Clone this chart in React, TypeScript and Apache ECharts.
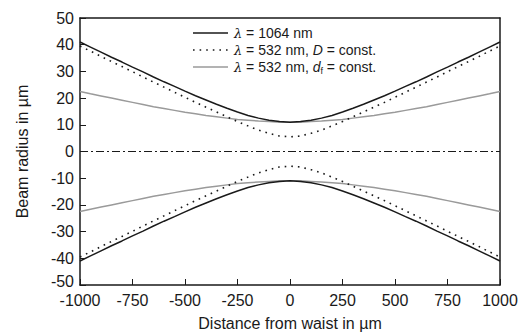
import React, { useEffect, useRef } from "react";
import * as echarts from "echarts";

const distances = [-1000, -950, -900, -850, -800, -750, -700, -650, -600, -550, -500, -450, -400, -350, -300, -250, -200, -150, -100, -50, 0, 50, 100, 150, 200, 250, 300, 350, 400, 450, 500, 550, 600, 650, 700, 750, 800, 850, 900, 950, 1000];

const w1064Upper = [41.0, 39.1, 37.2, 35.3, 33.5, 31.6, 29.8, 27.9, 26.1, 24.4, 22.6, 20.9, 19.3, 17.7, 16.2, 14.8, 13.5, 12.5, 11.7, 11.2, 11.0, 11.2, 11.7, 12.5, 13.5, 14.8, 16.2, 17.7, 19.3, 20.9, 22.6, 24.4, 26.1, 27.9, 29.8, 31.6, 33.5, 35.3, 37.2, 39.1, 41.0];
const w1064Lower = [-41.0, -39.1, -37.2, -35.3, -33.5, -31.6, -29.8, -27.9, -26.1, -24.4, -22.6, -20.9, -19.3, -17.7, -16.2, -14.8, -13.5, -12.5, -11.7, -11.2, -11.0, -11.2, -11.7, -12.5, -13.5, -14.8, -16.2, -17.7, -19.3, -20.9, -22.6, -24.4, -26.1, -27.9, -29.8, -31.6, -33.5, -35.3, -37.2, -39.1, -41.0];

const w532DUpper = [39.5, 37.6, 35.6, 33.7, 31.8, 29.9, 27.9, 26.0, 24.1, 22.2, 20.3, 18.4, 16.6, 14.8, 13.0, 11.2, 9.6, 8.0, 6.8, 5.8, 5.5, 5.8, 6.8, 8.0, 9.6, 11.2, 13.0, 14.8, 16.6, 18.4, 20.3, 22.2, 24.1, 26.0, 27.9, 29.9, 31.8, 33.7, 35.6, 37.6, 39.5];
const w532DLower = [-39.5, -37.6, -35.6, -33.7, -31.8, -29.9, -27.9, -26.0, -24.1, -22.2, -20.3, -18.4, -16.6, -14.8, -13.0, -11.2, -9.6, -8.0, -6.8, -5.8, -5.5, -5.8, -6.8, -8.0, -9.6, -11.2, -13.0, -14.8, -16.6, -18.4, -20.3, -22.2, -24.1, -26.0, -27.9, -29.9, -31.8, -33.7, -35.6, -37.6, -39.5];

const w532dfUpper = [22.5, 21.6, 20.8, 20.0, 19.2, 18.4, 17.6, 16.8, 16.1, 15.4, 14.7, 14.1, 13.5, 13.0, 12.5, 12.0, 11.7, 11.4, 11.2, 11.0, 11.0, 11.0, 11.2, 11.4, 11.7, 12.0, 12.5, 13.0, 13.5, 14.1, 14.7, 15.4, 16.1, 16.8, 17.6, 18.4, 19.2, 20.0, 20.8, 21.6, 22.5];
const w532dfLower = [-22.5, -21.6, -20.8, -20.0, -19.2, -18.4, -17.6, -16.8, -16.1, -15.4, -14.7, -14.1, -13.5, -13.0, -12.5, -12.0, -11.7, -11.4, -11.2, -11.0, -11.0, -11.0, -11.2, -11.4, -11.7, -12.0, -12.5, -13.0, -13.5, -14.1, -14.7, -15.4, -16.1, -16.8, -17.6, -18.4, -19.2, -20.0, -20.8, -21.6, -22.5];

const axisLineX = [-1000, 1000];
const axisLineY = [0, 0];

const FONT = "'Liberation Sans', Arial, sans-serif";
const BLACK = "#1a1a1a";
const GRAY = "#9a9a9a";
const DOTS = [1.6, 5];

function pairs(xs: number[], ys: number[]) {
  return xs.map((x, i) => [x, ys[i]]);
}

function lineSeries(name: string, ys: number[], color: string, type: any, width: number) {
  return {
    name,
    type: "line",
    data: pairs(distances, ys),
    showSymbol: false,
    symbol: "none",
    lineStyle: { color, width, type },
    silent: true,
  };
}

export default function App() {
  const ref = useRef<HTMLDivElement>(null);
  useEffect(() => {
    if (!ref.current) return;
    const chart = echarts.init(ref.current, undefined, { renderer: "svg" });
    const legendX1 = 193;
    const legendX2 = 228;
    const textX = 234;
    const rows = [33, 50, 67];
    const rich = {
      l: { fontFamily: "'DejaVu Serif', serif", fontStyle: "italic", fontSize: 13, color: "#555" },
      i: { fontFamily: FONT, fontStyle: "italic", fontSize: 14, color: BLACK },
      s: { fontFamily: FONT, fontSize: 9, color: BLACK, padding: [8, 0, 0, 0] },
    };
    const fmtX = (v: number) => String(v);
    const fmtY = (v: number) => (v === -50 ? "{lift|-50}" : String(v));
    chart.setOption({
      animation: false,
      grid: { left: 80, right: 28, top: 18, bottom: 51, containLabel: false },
      xAxis: [
        {
          type: "value",
          min: -1000,
          max: 1000,
          interval: 250,
          name: "Distance from waist in µm",
          nameLocation: "middle",
          nameGap: 30,
          nameTextStyle: { fontFamily: FONT, fontSize: 16, color: BLACK },
          axisLine: { show: true, onZero: false, lineStyle: { color: BLACK, width: 1.5 } },
          axisTick: { show: true, inside: true, length: 6, lineStyle: { color: BLACK, width: 1 } },
          axisLabel: { fontFamily: FONT, fontSize: 16, color: BLACK, margin: 7, formatter: fmtX },
          splitLine: { show: false },
        },
        {
          type: "value",
          position: "top",
          min: -1000,
          max: 1000,
          interval: 250,
          axisLine: { show: true, onZero: false, lineStyle: { color: BLACK, width: 1.5 } },
          axisTick: { show: false },
          axisLabel: { show: false },
          splitLine: { show: false },
        },
      ],
      yAxis: [
        {
          type: "value",
          min: -50,
          max: 50,
          interval: 10,
          name: "Beam radius in µm",
          nameLocation: "middle",
          nameGap: 50,
          nameTextStyle: { fontFamily: FONT, fontSize: 16, color: BLACK },
          axisLine: { show: true, onZero: false, lineStyle: { color: BLACK, width: 1.5 } },
          axisTick: { show: true, inside: true, length: 6, lineStyle: { color: BLACK, width: 1 } },
          axisLabel: {
            fontFamily: FONT,
            fontSize: 16,
            color: BLACK,
            margin: 6,
            formatter: fmtY,
            rich: { lift: { fontFamily: FONT, fontSize: 16, color: BLACK, padding: [0, 0, 7, 0] } },
          },
          splitLine: { show: false },
        },
        {
          type: "value",
          position: "right",
          min: -50,
          max: 50,
          interval: 10,
          axisLine: { show: true, onZero: false, lineStyle: { color: BLACK, width: 1.5 } },
          axisTick: { show: false },
          axisLabel: { show: false },
          splitLine: { show: false },
        },
      ],
      series: [
        {
          name: "zero",
          type: "line",
          data: pairs(axisLineX, axisLineY),
          showSymbol: false,
          symbol: "none",
          lineStyle: { color: BLACK, width: 1, type: [8, 3, 2, 3] },
          silent: true,
        },
        lineSeries("dfU", w532dfUpper, GRAY, "solid", 1.5),
        lineSeries("dfL", w532dfLower, GRAY, "solid", 1.5),
        lineSeries("DU", w532DUpper, BLACK, DOTS, 1.6),
        lineSeries("DL", w532DLower, BLACK, DOTS, 1.6),
        lineSeries("1064U", w1064Upper, BLACK, "solid", 1.5),
        lineSeries("1064L", w1064Lower, BLACK, "solid", 1.5),
      ],
      graphic: [
        { type: "line", shape: { x1: legendX1, y1: rows[0], x2: legendX2, y2: rows[0] }, style: { stroke: BLACK, lineWidth: 1.5 } },
        { type: "line", shape: { x1: legendX1, y1: rows[1], x2: legendX2, y2: rows[1] }, style: { stroke: BLACK, lineWidth: 1.6, lineDash: DOTS } },
        { type: "line", shape: { x1: legendX1, y1: rows[2], x2: legendX2, y2: rows[2] }, style: { stroke: GRAY, lineWidth: 1.5 } },
        {
          type: "text",
          x: textX,
          y: rows[0],
          style: { text: "{l|λ} = 1064 nm", fontFamily: FONT, fontSize: 14, fill: BLACK, verticalAlign: "middle", rich },
        },
        {
          type: "text",
          x: textX,
          y: rows[1],
          style: { text: "{l|λ} = 532 nm, {i|D} = const.", fontFamily: FONT, fontSize: 14, fill: BLACK, verticalAlign: "middle", rich },
        },
        {
          type: "text",
          x: textX,
          y: rows[2],
          style: { text: "{l|λ} = 532 nm, {i|d}{s|f} = const.", fontFamily: FONT, fontSize: 14, fill: BLACK, verticalAlign: "middle", rich },
        },
      ],
    });
    return () => chart.dispose();
  }, []);
  return <div ref={ref} style={{ width: 528, height: 336, position: "absolute", left: 0, top: 0, background: "#fff" }} />;
}
